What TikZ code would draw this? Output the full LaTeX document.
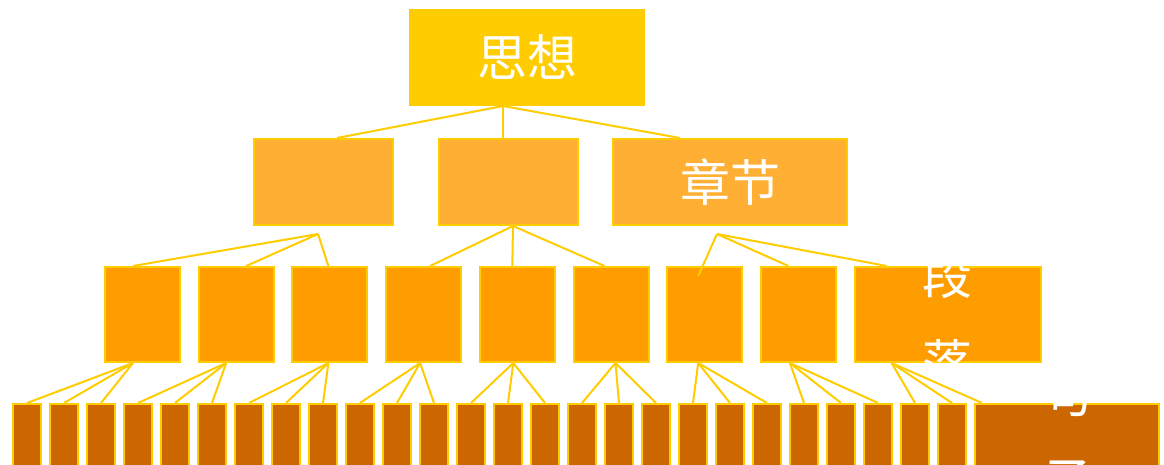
\documentclass[tikz,border=0pt]{standalone}
\usepackage{fontspec}
\newfontfamily\cjk{Noto Sans CJK SC}
\definecolor{rim}{HTML}{FFCC00}
\definecolor{topfill}{HTML}{FFCC00}
\definecolor{midfill}{HTML}{FFAF33}
\definecolor{lowfill}{HTML}{FF9C00}
\definecolor{leaffill}{HTML}{CC6600}
\tikzset{
  box/.style = {draw = rim, line width = 2pt, inner sep = 0pt, text = white, font = \cjk\fontsize{50}{87}\selectfont, align = center},
  word/.style = {inner sep = 0pt, text = white, font = \cjk\fontsize{50}{87}\selectfont, align = center},
  link/.style = {draw = rim, line width = 2pt},
}

\begin{document}
\begin{tikzpicture}[x = 1pt, y = -1pt]
\useasboundingbox (0, 0) rectangle (1164, 465);
\clip (0, 0) rectangle (1164, 465);
% top
\node[box, fill = topfill, minimum width = 234pt, minimum height = 95pt] (idea) at (527, 57.5){思想};
% chapters
\node[box, fill = midfill, minimum width = 139pt, minimum height = 86pt] (partA) at (323, 182){};
\node[box, fill = midfill, minimum width = 139pt, minimum height = 86pt] (partB) at (508, 182){};
\node[box, fill = midfill, minimum width = 234pt, minimum height = 86pt] (chapter) at (730, 182){章节};
% paragraphs
\foreach \i in {1,...,8}
  \node[box, fill = lowfill, minimum width = 75pt, minimum height = 95pt] (sec\i) at ({142.5 + 93.7*(\i-1)}, 314.5){};
\node[box, fill = lowfill, minimum width = 186pt, minimum height = 95pt] (sec9) at (947.6, 314.5){};
\node[word] (sec9-text) at ([yshift = -4pt]sec9.center){段\\落};
% sentences
\foreach \i in {0,...,25}
  \node[box, fill = leaffill, minimum width = 28pt, minimum height = 66pt] (leaf\i) at ({27 + 37*\i}, 437){};
\node[box, fill = leaffill, minimum width = 184pt, minimum height = 66pt] (leaf26) at (1067, 437){};
\node[word] (leaf26-text) at (leaf26.center){句\\子};
% links
\coordinate (idea-fork) at ([xshift = -24pt]idea.south);
\draw[link] (idea-fork) -- ([xshift = 14pt]partA.north);
\draw[link] (idea-fork) -- ([xshift = -5pt]partB.north);
\draw[link] (idea-fork) -- ([xshift = -50pt]chapter.north);
\coordinate (partA-fork) at ([xshift = -5pt, yshift = -8pt]partA.south);
\draw[link] (partA-fork) -- ([xshift = -9.5pt]sec1.north);
\draw[link] (partA-fork) -- ([xshift = 10pt]sec2.north);
\draw[link] (partA-fork) -- ([xshift = -1.5pt]sec3.north);
\coordinate (partB-fork) at ([xshift = 5pt]partB.south);
\draw[link] (partB-fork) -- ([xshift = 6.5pt]sec4.north);
\draw[link] (partB-fork) -- ([xshift = -5pt]sec5.north);
\draw[link] (partB-fork) -- ([xshift = -6.5pt]sec6.north);
\coordinate (chapter-fork) at ([xshift = -13pt, yshift = -8pt]chapter.south);
\draw[link] (chapter-fork) -- ([xshift = -6.5pt, yshift = -10pt]sec7.north);
\draw[link] (chapter-fork) -- ([xshift = -10pt]sec8.north);
\draw[link] (chapter-fork) -- ([xshift = 33pt]sec9.north west);
\foreach \n/\s/\a/\b/\c in {1/-9.5pt/0/1/2, 2/-10pt/3/4/5, 3/-1.5pt/6/7/8, 4/-3.5pt/9/10/11, 5/-4pt/12/13/14, 6/4.5pt/15/16/17, 7/-6.5pt/18/19/20, 8/-8.5pt/21/22/23}{
  \coordinate (sec\n-fork) at ([xshift = \s]sec\n.south);
  \draw[link] (sec\n-fork) -- (leaf\a.north);
  \draw[link] (sec\n-fork) -- (leaf\b.north);
  \draw[link] (sec\n-fork) -- (leaf\c.north);
}
\coordinate (sec9-fork) at ([xshift = -56pt]sec9.south);
\draw[link] (sec9-fork) -- (leaf24.north);
\draw[link] (sec9-fork) -- (leaf25.north);
\draw[link] (sec9-fork) -- ([xshift = 8pt]leaf26.north west);
\end{tikzpicture}
\end{document}
